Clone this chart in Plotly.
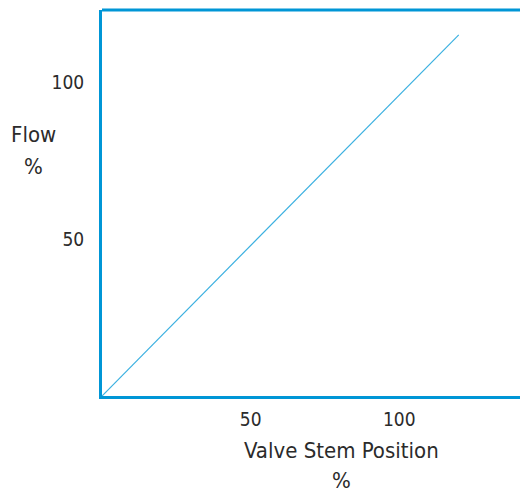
import plotly.graph_objects as go

# Data
stem_position = [0, 120]
flow = [0, 115]
x_ticks = [50, 100]
y_ticks = [50, 100]
x_title = "Valve Stem Position"
y_title = "Flow"
unit = "%"

FONT = "DejaVu Sans, sans-serif"
FRAME = "#0096d6"
LINE = "#3bb0e0"
TXT = "#2b2b2b"

def cond(s):
    return "<span style=\"font-stretch:condensed\">" + s + "</span>"

fig = go.Figure()
fig.add_trace(go.Scatter(x=stem_position, y=flow, mode="lines",
                         line=dict(color=LINE, width=1.2), hoverinfo="skip",
                         showlegend=False))

W, H = 520, 493
L, T, B = 102, 10, 493 - 396
fig.update_layout(
    width=W, height=H,
    margin=dict(l=L, r=0, t=T, b=B),
    paper_bgcolor="white", plot_bgcolor="white",
    font=dict(family=FONT, color=TXT, size=20),
    xaxis=dict(range=[0, 140.6], tickvals=x_ticks, ticktext=[cond(str(v)) for v in x_ticks],
               showgrid=False, zeroline=False,
               showline=True, linecolor=FRAME, linewidth=3,
               ticks="outside", ticklen=4, tickcolor="rgba(0,0,0,0)",
               tickfont=dict(size=19, family=FONT, color=TXT)),
    yaxis=dict(range=[0, 122.9], tickvals=y_ticks, ticktext=[cond(str(v)) for v in y_ticks],
               showgrid=False, zeroline=False,
               showline=True, linecolor=FRAME, linewidth=3,
               ticks="outside", ticklen=11, tickcolor="rgba(0,0,0,0)",
               tickfont=dict(size=19, family=FONT, color=TXT)),
    shapes=[dict(type="line", xref="paper", yref="paper", x0=0, x1=1.05, y0=1, y1=1,
                 line=dict(color=FRAME, width=3))],
)

PW, PH = 520 - 102, 396 - 10
def px(x):
    return (x - 102) / PW
def py(y):
    return (396 - y) / PH

for txt, x, y in [(x_title, 341, 450), (unit, 341, 481), (y_title, 33, 134), (unit, 33, 166)]:
    fig.add_annotation(text=cond(txt), xref="paper", yref="paper", x=px(x), y=py(y),
                       showarrow=False, font=dict(size=22, family=FONT, color=TXT),
                       xanchor="center", yanchor="middle")

fig.write_html("out.html", config={"displayModeBar": False},
               post_script="document.body.style.margin='0';document.body.style.overflow='hidden';")
